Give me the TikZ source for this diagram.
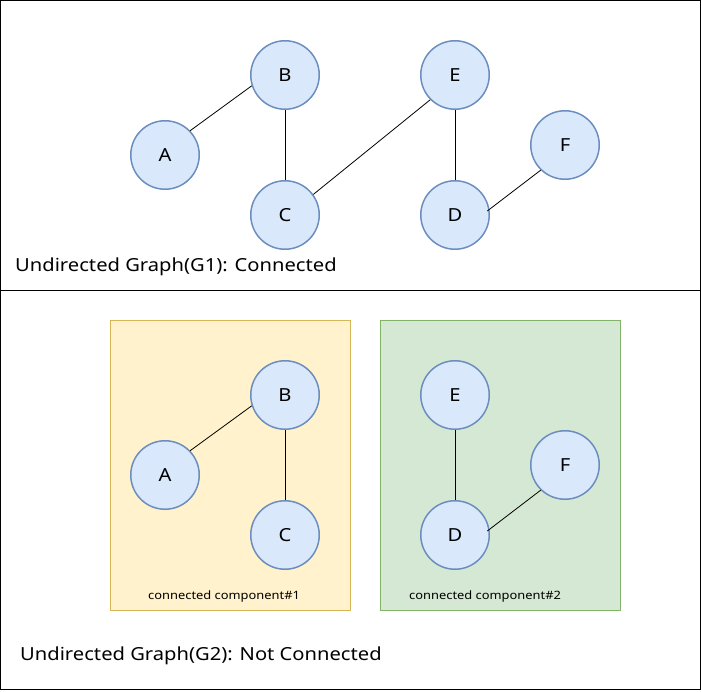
\documentclass[tikz,border=0pt]{standalone}
\usepackage{fontspec}
\setmainfont[FakeStretch=1.12]{Noto Sans}
\usetikzlibrary{calc}
\definecolor{vfill}{HTML}{DAE8FC}
\definecolor{vdraw}{HTML}{6C8EBF}
\definecolor{yfill}{HTML}{FFF2CC}
\definecolor{ydraw}{HTML}{D6B656}
\definecolor{gfill}{HTML}{D5E8D4}
\definecolor{gdraw}{HTML}{82B366}
\tikzset{
  vertex/.style={circle, draw=vdraw, fill=vfill, line width=1.5pt, minimum size=68.5pt, inner sep=0pt, font=\fontsize{18}{18}\selectfont},
  edge/.style={draw=black, line width=0.8pt},
  frame/.style={draw=black, line width=1pt},
  biglabel/.style={anchor=west, inner sep=0pt, font=\fontsize{18}{18}\selectfont},
  smalllabel/.style={anchor=west, inner sep=0pt, font=\fontsize{11.5}{11.5}\selectfont}
}
\begin{document}
\begin{tikzpicture}[x=1pt,y=1pt]
\useasboundingbox (0,0) rectangle (701,-692);
% frames
\draw[frame] (0.5,-0.5) rectangle (700.5,-290.5);
\draw[frame] (0.5,-290.5) rectangle (700.5,-689.5);
% top graph
\node[vertex] (A1) at (165,-155) {A};
\node[vertex] (B1) at (285,-75) {B};
\node[vertex] (C1) at (285,-215) {C};
\node[vertex] (E1) at (455,-75) {E};
\node[vertex] (D1) at (455,-215) {D};
\node[vertex] (F1) at (565,-145) {F};
\coordinate (d1end) at ($(D1.center)+(7:32.5)$);
\draw[edge] (A1.44) -- (B1.198);
\draw[edge] (B1.south) -- (C1.north);
\draw[edge] (C1.36) -- (E1.225);
\draw[edge] (E1.south) -- (D1.north);
\draw[edge] (F1.226) -- (d1end);
\node[biglabel] (L1) at (15,-267) {Undirected Graph(G1): Connected};
% bottom components
\draw[draw=ydraw, fill=yfill, line width=1pt] (110.5,-320.5) rectangle (350.5,-610.5);
\draw[draw=gdraw, fill=gfill, line width=1pt] (380.5,-320.5) rectangle (620.5,-610.5);
\node[vertex] (A2) at (165,-475) {A};
\node[vertex] (B2) at (285,-395) {B};
\node[vertex] (C2) at (285,-535) {C};
\node[vertex] (E2) at (455,-395) {E};
\node[vertex] (D2) at (455,-535) {D};
\node[vertex] (F2) at (565,-465) {F};
\coordinate (d2end) at ($(D2.center)+(7:32.5)$);
\draw[edge] (A2.44) -- (B2.198);
\draw[edge] (B2.south) -- (C2.north);
\draw[edge] (E2.south) -- (D2.north);
\draw[edge] (F2.226) -- (d2end);
\node[smalllabel] (S1) at (148,-596.5) {connected component\#1};
\node[smalllabel] (S2) at (409,-596.5) {connected component\#2};
\node[biglabel] (L2) at (20,-656) {Undirected Graph(G2): Not Connected};
\end{tikzpicture}
\end{document}
